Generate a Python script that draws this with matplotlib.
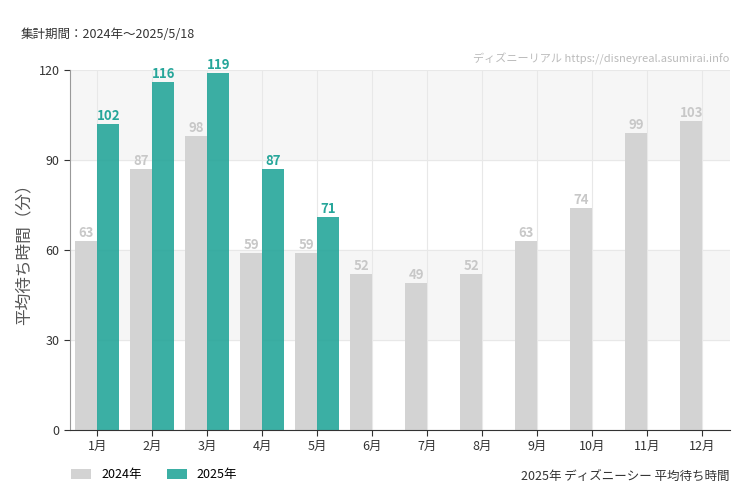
import matplotlib.pyplot as plt
import numpy as np

plt.rcParams['font.family'] = ['Noto Sans CJK JP']

months = ['1月', '2月', '3月', '4月', '5月', '6月', '7月', '8月', '9月', '10月', '11月', '12月']
y2024 = [63, 87, 98, 59, 59, 52, 49, 52, 63, 74, 99, 103]
y2025 = [102, 116, 119, 87, 71]

c24 = '#d3d3d3'
c25 = '#26a69a'

fig = plt.figure(figsize=(7.5, 5), dpi=100)
ax = fig.add_axes([0.0933, 0.14, 0.88, 0.72])

x = np.arange(len(months))
w = 0.4
ax.axhspan(30, 60, color='#f6f6f6', zorder=0)
ax.axhspan(90, 120, color='#f6f6f6', zorder=0)
ax.bar(x - w / 2, y2024, w, color=c24, label='2024年', zorder=2)
ax.bar(x[:len(y2025)] + w / 2, y2025, w, color=c25, alpha=0.9, label='2025年', zorder=2)

for i, v in enumerate(y2024):
    ax.text(i - w / 2, v + 0.3, str(v), ha='center', va='bottom', color='#c8c8c8',
            fontsize=9.5, fontweight='bold')
for i, v in enumerate(y2025):
    ax.text(i + w / 2, v + 0.3, str(v), ha='center', va='bottom', color=c25,
            fontsize=9.5, fontweight='bold')

ax.set_xlim(-0.5, 11.5)
ax.set_ylim(0, 120)
ax.set_yticks([0, 30, 60, 90, 120])
ax.set_xticks(x, months)
ax.tick_params(labelsize=9, colors='#333333', length=4)
ax.grid(axis='both', color='#e8e8e8', linewidth=0.8, zorder=1)
ax.set_axisbelow(True)
for s in ['top', 'right']:
    ax.spines[s].set_visible(False)
ax.spines['left'].set_color('#999999')
ax.spines['bottom'].set_color('#333333')
ax.set_ylabel('平均待ち時間（分）', fontsize=12, color='#555555')

fig.text(0.027, 0.925, '集計期間：2024年～2025/5/18', fontsize=9, color='#333333')
fig.text(0.973, 0.875, 'ディズニーリアル https://disneyreal.asumirai.info', fontsize=8,
         color='#bbbbbb', ha='right')
fig.text(0.973, 0.04, '2025年 ディズニーシー 平均待ち時間', fontsize=9, color='#333333', ha='right')
fig.legend(loc='lower left', bbox_to_anchor=(0.08, 0.015), ncol=2, frameon=False,
           fontsize=9, handlelength=1.6, handleheight=0.8, columnspacing=2)

fig.savefig('out.png', dpi=100)
